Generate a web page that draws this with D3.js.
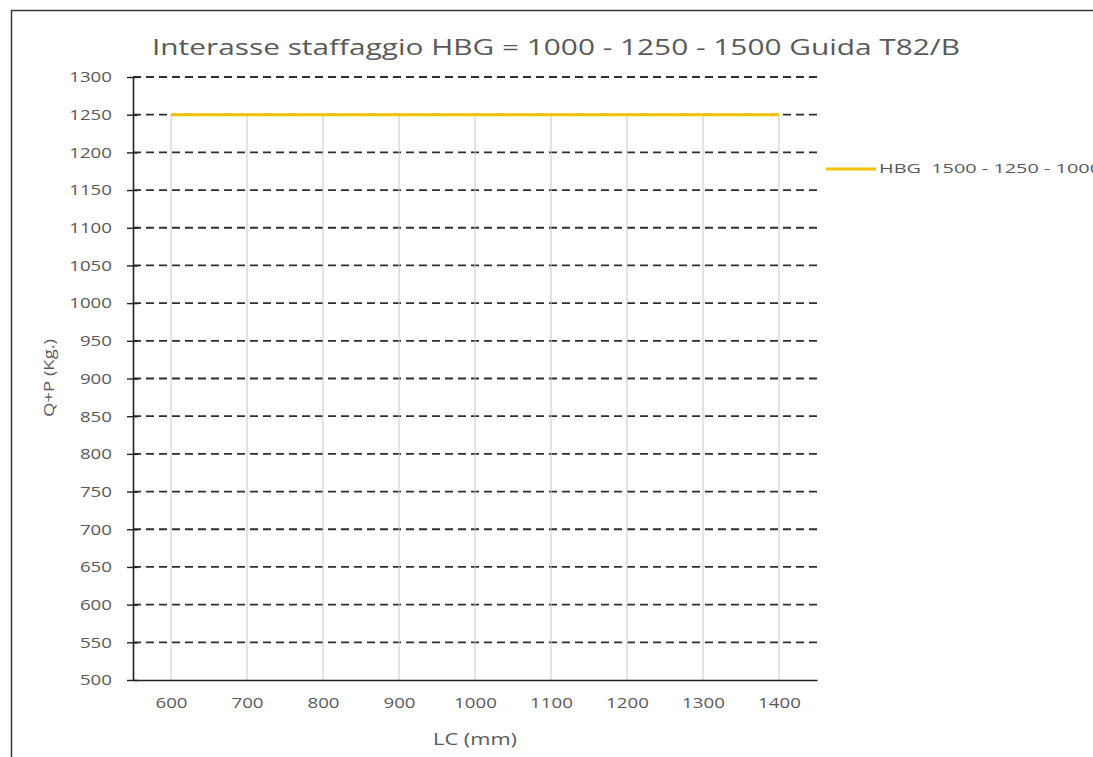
<!DOCTYPE html>
<html>
<head>
<meta charset="utf-8">
<script src="https://cdn.jsdelivr.net/npm/d3@7"></script>
<style>
  body { margin: 0; background: #fff; }
  text { font-family: "Open Sans", "DejaVu Sans", sans-serif; fill: #595959; }
</style>
</head>
<body>
<div class="chart"></div>
<script>
// data
var lcValues = [600, 700, 800, 900, 1000, 1100, 1200, 1300, 1400];
var loadValues = [1250, 1250, 1250, 1250, 1250, 1250, 1250, 1250, 1250];
var yTicks = d3.range(500, 1301, 50);
var xTicks = [600, 700, 800, 900, 1000, 1100, 1200, 1300, 1400];
var seriesName = "HBG  1500 - 1250 - 1000";
var chartTitle = "Interasse staffaggio HBG = 1000 - 1250 - 1500 Guida T82/B";

var svgWidth = 1093, svgHeight = 757;
var margin = {top: 77, right: 276, bottom: 77, left: 133};

var svg = d3.select(".chart").append("svg")
  .attr("width", svgWidth)
  .attr("height", svgHeight);

// outer frame (runs off the right side)
svg.append("rect")
  .attr("x", 11.5).attr("y", 10.5)
  .attr("width", 1100).attr("height", 760)
  .attr("fill", "none")
  .attr("stroke", "#3a3a3a")
  .attr("stroke-width", 1.5);

var x = d3.scaleLinear().domain([550, 1450]).range([margin.left, svgWidth - margin.right]);
var y = d3.scaleLinear().domain([500, 1300]).range([svgHeight - margin.bottom, margin.top]);
var fmt = d3.format("d");

// horizontal dashed gridlines
svg.append("g").selectAll("line")
  .data(yTicks.filter(function(d){ return d > 500; }))
  .enter().append("line")
    .attr("x1", x(550)).attr("x2", x(1450))
    .attr("y1", function(d){ return y(d); })
    .attr("y2", function(d){ return y(d); })
    .attr("stroke", "#2e2e2e")
    .attr("stroke-width", 1.8)
    .attr("stroke-dasharray", "8,5");

// drop lines from each point
svg.append("g").selectAll("line")
  .data(lcValues)
  .enter().append("line")
    .attr("x1", function(d){ return x(d); })
    .attr("x2", function(d){ return x(d); })
    .attr("y1", function(d, i){ return y(loadValues[i]); })
    .attr("y2", y(500))
    .attr("stroke", "#c8c8c8")
    .attr("stroke-width", 1);

// y axis
var yAxis = svg.append("g")
  .attr("transform", "translate(" + x(550) + ",0)")
  .call(d3.axisLeft(y).tickValues(yTicks).tickFormat(fmt).tickSizeInner(5).tickSizeOuter(0).tickPadding(16));
yAxis.select(".domain").attr("stroke", "#222").attr("stroke-width", 1.6);
yAxis.selectAll(".tick line").attr("x2", 5).attr("x1", -6).attr("stroke", "#222").attr("stroke-width", 1.4);
yAxis.selectAll(".tick text")
  .style("font-size", "15px")
  .attr("fill", "#666")
  .attr("textLength", function(d){ return fmt(d).length * 10.7; })
  .attr("lengthAdjust", "spacingAndGlyphs");

// x axis
var xAxis = svg.append("g")
  .attr("transform", "translate(0," + y(500) + ")")
  .call(d3.axisBottom(x).tickValues(xTicks).tickFormat(fmt).tickSize(0).tickPadding(17));
xAxis.select(".domain").attr("stroke", "#222").attr("stroke-width", 1.6);
xAxis.selectAll(".tick text")
  .style("font-size", "15px")
  .attr("fill", "#666")
  .attr("textLength", function(d){ return fmt(d).length * 10.7; })
  .attr("lengthAdjust", "spacingAndGlyphs");

// series line
var line = d3.line()
  .x(function(d){ return x(d); })
  .y(function(d, i){ return y(loadValues[i]); });

svg.append("path")
  .datum(lcValues)
  .attr("d", line)
  .attr("fill", "none")
  .attr("stroke", "#f2c200")
  .attr("stroke-width", 3);

// title
svg.append("text")
  .attr("x", 556).attr("y", 55)
  .attr("text-anchor", "middle")
  .attr("textLength", 808)
  .attr("lengthAdjust", "spacingAndGlyphs")
  .style("font-size", "21px")
  .text(chartTitle);

// axis titles
svg.append("text")
  .attr("transform", "translate(54,378) rotate(-90)")
  .attr("text-anchor", "middle")
  .attr("textLength", 78)
  .attr("lengthAdjust", "spacingAndGlyphs")
  .style("font-size", "14px")
  .text("Q+P (Kg.)");

svg.append("text")
  .attr("x", 475).attr("y", 745)
  .attr("text-anchor", "middle")
  .attr("textLength", 84)
  .attr("lengthAdjust", "spacingAndGlyphs")
  .style("font-size", "16px")
  .text("LC (mm)");

// legend
var legend = svg.append("g").attr("transform", "translate(826,169)");
legend.append("line")
  .attr("x1", 0).attr("x2", 50)
  .attr("stroke", "#f2c200").attr("stroke-width", 3);
legend.append("text")
  .attr("x", 53).attr("y", 4)
  .style("font-size", "12px")
  .style("white-space", "pre")
  .attr("textLength", 222)
  .attr("lengthAdjust", "spacingAndGlyphs")
  .text(seriesName);
</script>
</body>
</html>
